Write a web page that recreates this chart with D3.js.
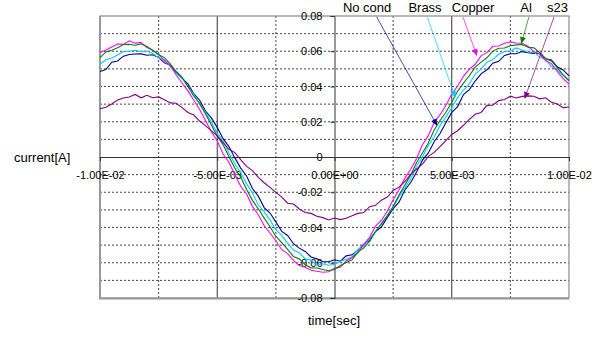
<!DOCTYPE html>
<html>
<head>
<meta charset="utf-8">
<script src="https://cdn.jsdelivr.net/npm/d3@7"></script>
<style>
  body { margin: 0; background: #fff; }
  svg text { font-family: "Liberation Sans", Arial, sans-serif; fill: #000; }
</style>
</head>
<body>
<div id="fig"></div>
<script>
// sample times in ms
var timeMs = [-10,-9.75,-9.5,-9.25,-9,-8.75,-8.5,-8.25,-8,-7.75,
  -7.5,-7.25,-7,-6.75,-6.5,-6.25,-6,-5.75,-5.5,-5.25,
  -5,-4.75,-4.5,-4.25,-4,-3.75,-3.5,-3.25,-3,-2.75,
  -2.5,-2.25,-2,-1.75,-1.5,-1.25,-1,-0.75,-0.5,-0.25,
  0,0.25,0.5,0.75,1,1.25,1.5,1.75,2,2.25,
  2.5,2.75,3,3.25,3.5,3.75,4,4.25,4.5,4.75,
  5,5.25,5.5,5.75,6,6.25,6.5,6.75,7,7.25,
  7.5,7.75,8,8.25,8.5,8.75,9,9.25,9.5,9.75,
  10];

// current [A]
var noCond = [0.0485,0.0496,0.0538,0.0545,0.0572,0.0582,0.0584,0.0585,0.0577,0.0580,
  0.0564,0.0534,0.0520,0.0479,0.0446,0.0415,0.0359,0.0322,0.0261,0.0222,
  0.0168,0.0104,0.0059,-0.0005,-0.0063,-0.0108,-0.0179,-0.0222,-0.0287,-0.0318,
  -0.0368,-0.0422,-0.0445,-0.0492,-0.0517,-0.0536,-0.0567,-0.0578,-0.0594,-0.0594,
  -0.0583,-0.0591,-0.0561,-0.0555,-0.0528,-0.0495,-0.0473,-0.0423,-0.0398,-0.0344,
  -0.0293,-0.0256,-0.0187,-0.0145,-0.0085,-0.0018,0.0023,0.0087,0.0133,0.0194,
  0.0253,0.0286,0.0354,0.0382,0.0431,0.0472,0.0495,0.0532,0.0543,0.0576,
  0.0586,0.0586,0.0598,0.0592,0.0588,0.0587,0.0557,0.0550,0.0512,0.0494,
  0.0460];

var brass = [0.0526,0.0552,0.0562,0.0579,0.0598,0.0600,0.0606,0.0598,0.0601,0.0587,
  0.0563,0.0552,0.0511,0.0474,0.0447,0.0397,0.0357,0.0297,0.0253,0.0198,
  0.0134,0.0092,0.0021,-0.0038,-0.0089,-0.0151,-0.0204,-0.0271,-0.0311,-0.0357,
  -0.0413,-0.0445,-0.0490,-0.0528,-0.0543,-0.0578,-0.0585,-0.0613,-0.0606,-0.0614,
  -0.0609,-0.0591,-0.0581,-0.0566,-0.0525,-0.0505,-0.0460,-0.0425,-0.0377,-0.0333,
  -0.0286,-0.0225,-0.0175,-0.0124,-0.0051,0.0000,0.0065,0.0113,0.0178,0.0227,
  0.0280,0.0337,0.0380,0.0414,0.0471,0.0499,0.0538,0.0553,0.0583,0.0598,
  0.0601,0.0619,0.0607,0.0594,0.0595,0.0567,0.0553,0.0513,0.0493,0.0463,
  0.0431];

var copper = [0.0593,0.0607,0.0624,0.0641,0.0639,0.0659,0.0646,0.0650,0.0621,0.0605,
  0.0583,0.0546,0.0518,0.0465,0.0420,0.0375,0.0322,0.0270,0.0207,0.0143,
  0.0091,0.0017,-0.0030,-0.0101,-0.0166,-0.0210,-0.0280,-0.0328,-0.0389,-0.0431,
  -0.0475,-0.0526,-0.0548,-0.0587,-0.0616,-0.0626,-0.0643,-0.0648,-0.0654,-0.0651,
  -0.0631,-0.0626,-0.0590,-0.0570,-0.0542,-0.0494,-0.0456,-0.0392,-0.0360,-0.0308,
  -0.0243,-0.0187,-0.0120,-0.0070,-0.0008,0.0070,0.0121,0.0196,0.0240,0.0292,
  0.0357,0.0403,0.0458,0.0498,0.0526,0.0574,0.0592,0.0628,0.0630,0.0645,
  0.0653,0.0647,0.0645,0.0628,0.0598,0.0584,0.0547,0.0530,0.0486,0.0445,
  0.0413];

var al = [0.0564,0.0596,0.0606,0.0620,0.0638,0.0640,0.0634,0.0642,0.0627,0.0606,
  0.0580,0.0564,0.0527,0.0485,0.0454,0.0400,0.0345,0.0305,0.0244,0.0182,
  0.0118,0.0069,0.0002,-0.0063,-0.0114,-0.0184,-0.0246,-0.0294,-0.0347,-0.0396,
  -0.0451,-0.0486,-0.0524,-0.0565,-0.0578,-0.0611,-0.0630,-0.0630,-0.0638,-0.0645,
  -0.0638,-0.0616,-0.0599,-0.0583,-0.0540,-0.0516,-0.0478,-0.0423,-0.0379,-0.0334,
  -0.0281,-0.0216,-0.0159,-0.0102,-0.0031,0.0023,0.0079,0.0153,0.0207,0.0254,
  0.0311,0.0374,0.0419,0.0461,0.0510,0.0538,0.0563,0.0601,0.0617,0.0618,
  0.0631,0.0636,0.0638,0.0623,0.0619,0.0593,0.0559,0.0545,0.0507,0.0466,
  0.0434];

var s23 = [0.0274,0.0282,0.0301,0.0323,0.0335,0.0340,0.0355,0.0336,0.0350,0.0336,
  0.0341,0.0325,0.0307,0.0305,0.0280,0.0253,0.0238,0.0204,0.0178,0.0148,
  0.0120,0.0082,0.0044,0.0025,-0.0015,-0.0053,-0.0077,-0.0116,-0.0146,-0.0172,
  -0.0201,-0.0228,-0.0262,-0.0267,-0.0295,-0.0315,-0.0320,-0.0336,-0.0344,-0.0357,
  -0.0346,-0.0355,-0.0348,-0.0333,-0.0320,-0.0315,-0.0282,-0.0274,-0.0245,-0.0227,
  -0.0190,-0.0171,-0.0140,-0.0099,-0.0068,-0.0040,0.0004,0.0026,0.0059,0.0093,
  0.0128,0.0149,0.0180,0.0213,0.0242,0.0253,0.0293,0.0294,0.0320,0.0326,
  0.0345,0.0335,0.0344,0.0347,0.0345,0.0330,0.0336,0.0311,0.0301,0.0280,
  0.0284];

var seriesNames  = ["No cond", "Brass", "Copper", "Al", "s23"];
var seriesValues = [noCond, brass, copper, al, s23];
var seriesColors = ["#000080", "#00ccff", "#ff00ff", "#008000", "#800080"];

var xTicks = [-0.01, -0.005, 0, 0.005, 0.01];
var xTickLabels = ["-1.00E-02", "-5.00E-03", "0.00E+00", "5.00E-03", "1.00E-02"];
var xMinor = [-0.0075, -0.0025, 0.0025, 0.0075];
var yTicks = [-0.08, -0.06, -0.04, -0.02, 0, 0.02, 0.04, 0.06, 0.08];
var yTickLabels = ["-0.08", "-0.06", "-0.04", "-0.02", "0", "0.02", "0.04", "0.06", "0.08"];
var yGrid = [-0.07, -0.06, -0.05, -0.04, -0.03, -0.02, -0.01, 0.01, 0.02, 0.03, 0.04, 0.05, 0.06, 0.07];

// callouts: label centre (ms), line start (ms), arrow tip (ms, A)
var calloutLabelMs = [1.39, 3.86, 5.91, 8.17, 9.51];
var calloutStartMs = [1.80, 3.96, 5.48, 8.29, 9.36];
var calloutTipMs   = [4.36, 5.14, 6.06, 7.97, 8.12];
var calloutTipA    = [0.0182, 0.034, 0.0579, 0.0647, 0.0335];

var W = 597, H = 338;
var m = {left: 100, right: 28, top: 16, bottom: 40};

var x = d3.scaleLinear().domain([-0.01, 0.01]).range([m.left, W - m.right]);
var y = d3.scaleLinear().domain([-0.08, 0.08]).range([H - m.bottom, m.top]);

var svg = d3.select("#fig").append("svg")
  .attr("width", W).attr("height", H);

var defs = svg.append("defs");
seriesColors.forEach(function(c, i) {
  defs.append("marker")
    .attr("id", "arr" + i)
    .attr("markerUnits", "userSpaceOnUse")
    .attr("markerWidth", 7).attr("markerHeight", 6)
    .attr("refX", 6).attr("refY", 3)
    .attr("orient", "auto")
    .append("path").attr("d", "M0,0L7,3L0,6z").attr("fill", c);
});

// grid
svg.append("g").selectAll("line").data(yGrid).enter().append("line")
  .attr("x1", x(-0.01)).attr("x2", x(0.01))
  .attr("y1", function(d) { return y(d); }).attr("y2", function(d) { return y(d); })
  .attr("stroke", "#444").attr("stroke-width", 1).attr("stroke-dasharray", "2,2");

svg.append("g").selectAll("line").data(xMinor).enter().append("line")
  .attr("x1", function(d) { return x(d); }).attr("x2", function(d) { return x(d); })
  .attr("y1", y(0.08)).attr("y2", y(-0.08))
  .attr("stroke", "#444").attr("stroke-width", 1).attr("stroke-dasharray", "2,2");

svg.append("g").selectAll("line").data([-0.005, 0.005]).enter().append("line")
  .attr("x1", function(d) { return x(d); }).attr("x2", function(d) { return x(d); })
  .attr("y1", y(0.08)).attr("y2", y(-0.08))
  .attr("stroke", "#333").attr("stroke-width", 1);

// plot border (Excel style: heavier left/bottom)
svg.append("rect")
  .attr("x", x(-0.01)).attr("y", y(0.08))
  .attr("width", x(0.01) - x(-0.01)).attr("height", y(-0.08) - y(0.08))
  .attr("fill", "none").attr("stroke", "#8a8a8a").attr("stroke-width", 1.2);
svg.append("path")
  .attr("d", "M" + x(-0.01) + "," + y(0.08) + "V" + (y(-0.08) + 0.5) + "H" + x(0.01))
  .attr("fill", "none").attr("stroke", "#999").attr("stroke-width", 2);

// axes crossing at zero
var xAxis = d3.axisBottom(x).tickValues(xTicks)
  .tickFormat(function(d, i) { return xTickLabels[i]; })
  .tickSize(4).tickPadding(14);
var gx = svg.append("g").attr("transform", "translate(0," + y(0) + ")").call(xAxis);
gx.select(".domain").attr("stroke", "#333");
gx.selectAll(".tick line").attr("stroke", "#333");
gx.selectAll("text").style("font-size", "11px").attr("dy", "0.35em");

var yAxis = d3.axisLeft(y).tickValues(yTicks)
  .tickFormat(function(d, i) { return yTickLabels[i]; })
  .tickSize(4).tickPadding(8);
var gy = svg.append("g").attr("transform", "translate(" + x(0) + ",0)").call(yAxis);
gy.select(".domain").attr("stroke", "#333");
gy.selectAll(".tick line").attr("stroke", "#333");
gy.selectAll("text").style("font-size", "11px");

// series
var line = d3.line()
  .x(function(d, i) { return x(timeMs[i] / 1000); })
  .y(function(d) { return y(d); });

seriesValues.forEach(function(vals, i) {
  svg.append("path")
    .datum(vals)
    .attr("class", "series")
    .attr("d", line)
    .attr("fill", "none")
    .attr("stroke", seriesColors[i])
    .attr("stroke-width", 1.1);
});

// callout labels with leader arrows
seriesNames.forEach(function(name, i) {
  svg.append("line")
    .attr("x1", x(calloutStartMs[i] / 1000)).attr("y1", y(0.08) + 1)
    .attr("x2", x(calloutTipMs[i] / 1000)).attr("y2", y(calloutTipA[i]))
    .attr("stroke", seriesColors[i]).attr("stroke-opacity", 0.7)
    .attr("stroke-width", 1)
    .attr("marker-end", "url(#arr" + i + ")");
  svg.append("text")
    .attr("x", x(calloutLabelMs[i] / 1000)).attr("y", y(0.08) - 4)
    .attr("text-anchor", "middle")
    .style("font-size", "13px")
    .text(name);
});

// axis titles
svg.append("text")
  .attr("x", 14).attr("y", y(0) + 4.5)
  .style("font-size", "13px")
  .text("current[A]");

svg.append("text")
  .attr("x", 334).attr("y", 325)
  .attr("text-anchor", "middle")
  .style("font-size", "13px")
  .text("time[sec]");
</script>
</body>
</html>
